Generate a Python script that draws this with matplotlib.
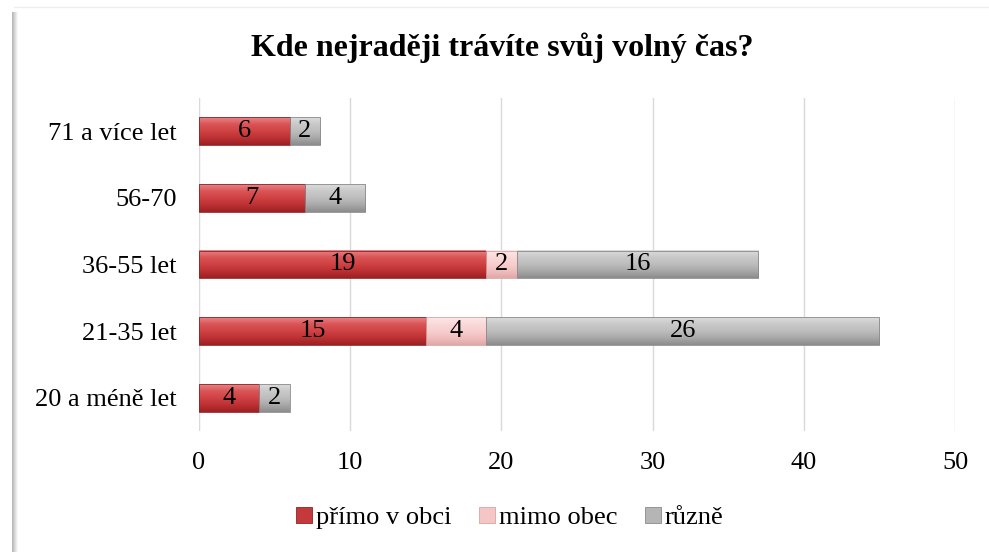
import matplotlib
matplotlib.use("Agg")
import matplotlib.pyplot as plt
import numpy as np
from matplotlib.patches import Rectangle, Patch
from matplotlib.colors import LinearSegmentedColormap

categories = ["20 a méně let", "21-35 let", "36-55 let", "56-70", "71 a více let"]
series_names = ["přímo v obci", "mimo obec", "různě"]
primo = [4, 15, 19, 7, 6]
mimo = [0, 4, 2, 0, 0]
ruzne = [2, 26, 16, 4, 2]
xticks = [0, 10, 20, 30, 40, 50]
title = "Kde nejraději trávíte svůj volný čas?"

# gradient stops (bottom -> top)
grads = [
    ["#9E2022", "#BC3033", "#D04244", "#DA5456", "#E78688"],
    ["#E0A8A8", "#F0BEBE", "#F7CFCF", "#FAD9D9", "#FDE8E8"],
    ["#8C8C8C", "#A8A8A8", "#BDBDBD", "#C9C9C9", "#DCDCDC"],
]
legend_colors = ["#C3393C", "#F4C6C6", "#B5B5B5"]
edge_dark = ["#8E2426", "#D9A3A3", "#8A8A8A"]

plt.rcParams['font.family'] = ['Liberation Serif', 'DejaVu Serif']

fig = plt.figure(figsize=(9.89, 5.52), dpi=100)
fig.patch.set_facecolor("white")

# chart frame shadow on left
for i, a in enumerate(np.linspace(0.55, 0.05, 6)):
    fig.patches.append(Rectangle(((12 + i) / 989, 0), 1 / 989, (552 - 12) / 552,
                                 transform=fig.transFigure, color="#808080", alpha=a, lw=0))
fig.add_artist(plt.Line2D([14 / 989, 1], [1 - 7 / 552, 1 - 7 / 552], transform=fig.transFigure,
                          color="#EEEEEE", lw=1))

ax = fig.add_axes([199 / 989, 1 - 431 / 552, (955 - 199) / 989, (431 - 98) / 552])
y = np.arange(len(categories))
h = 0.42
left = np.zeros(len(categories))
data = [primo, mimo, ruzne]
grad = np.linspace(0, 1, 64).reshape(-1, 1)
for vals, name, stops, ec in zip(data, series_names, grads, edge_dark):
    cmap = LinearSegmentedColormap.from_list(name, stops)
    vals = np.array(vals, dtype=float)
    for yi, v, l in zip(y, vals, left):
        if v <= 0:
            continue
        ax.imshow(grad, cmap=cmap, aspect="auto", origin="lower",
                  extent=[l, l + v, yi - h / 2, yi + h / 2], zorder=3, interpolation="bilinear")
        ax.add_patch(Rectangle((l, yi - h / 2), v, h, fill=False, edgecolor=ec, lw=0.6, zorder=4))
        ax.text(l + v / 2, yi, f"{int(v)}", ha="center", va="center", fontsize=19,
                color="black", zorder=5)
    left += vals

ax.set_xlim(0, 50)
ax.set_ylim(-0.5, len(categories) - 0.5)
ax.set_xticks(xticks)
ax.set_xticklabels([str(t) for t in xticks], fontsize=19)
ax.set_yticks(y)
ax.set_yticklabels(categories, fontsize=19)
ax.tick_params(length=0)
ax.tick_params(axis='y', pad=16)
ax.tick_params(axis='x', pad=15)
ax.grid(axis='x', color="#D9D9D9", lw=1, zorder=0)
ax.set_axisbelow(True)
for s in ax.spines.values():
    s.set_visible(False)
ax.axvline(0, color="#D9D9D9", lw=1.5, zorder=2)

fig.text(502 / 989, 1 - 48 / 552, title, ha="center", va="center",
         fontsize=23, fontweight="bold")

handles = [Patch(facecolor=c, edgecolor=e, lw=0.6) for c, e in zip(legend_colors, edge_dark)]
leg = fig.legend(handles, series_names, loc="center", bbox_to_anchor=(510 / 989, 1 - 518 / 552),
                 ncol=3, frameon=False, fontsize=19, handlelength=0.6, handleheight=0.6,
                 handletextpad=0.15, columnspacing=1.05)

fig.savefig("out.png", dpi=100)
